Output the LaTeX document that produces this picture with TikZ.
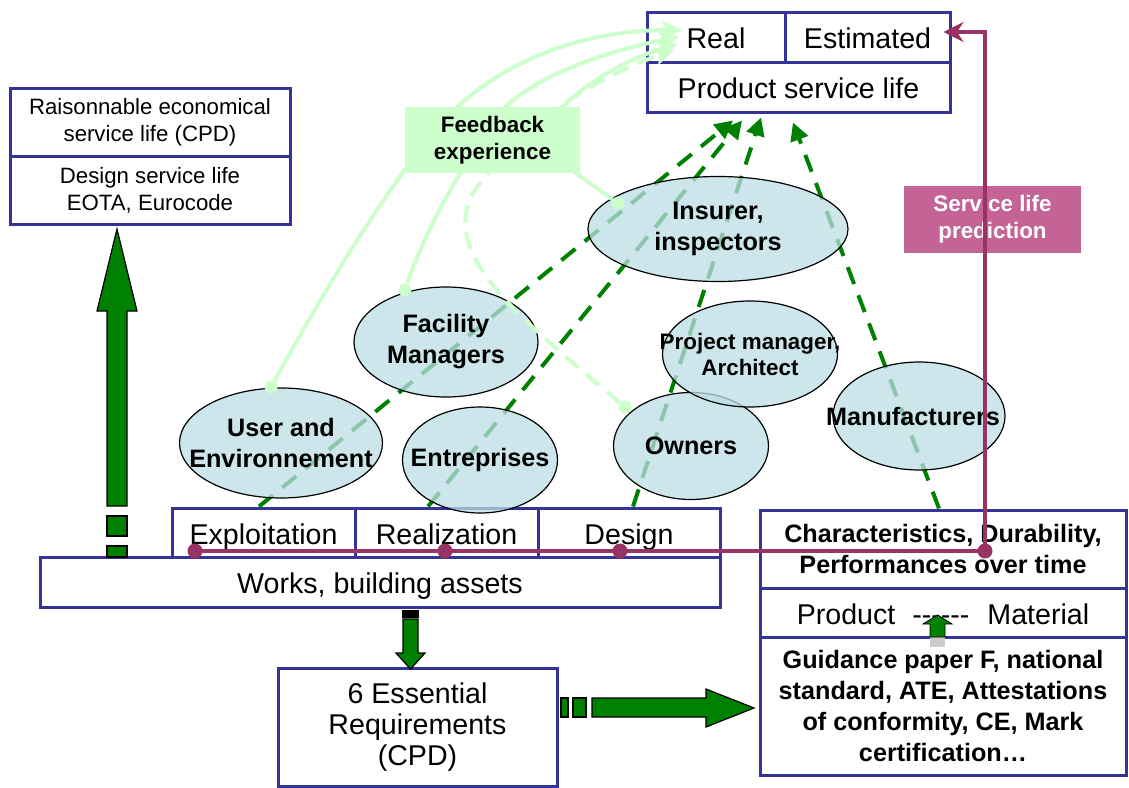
\documentclass[tikz,border=0pt]{standalone}
\usepackage{fontspec}
\setmainfont{Liberation Sans}
\usetikzlibrary{arrows.meta,shapes.geometric}
\definecolor{boxblue}{RGB}{51,51,153}
\definecolor{fbgreen}{RGB}{204,255,204}
\definecolor{dgreen}{RGB}{0,128,0}
\definecolor{plum}{RGB}{153,51,102}
\definecolor{slpink}{RGB}{196,100,150}
\definecolor{actorfill}{RGB}{187,222,228}

\begin{document}
\begin{tikzpicture}[x=0.5pt,y=-0.5pt,
    cell/.style={draw=boxblue,line width=1.5pt,fill=white,inner sep=0pt,align=center,font=\fontsize{14.3}{15.7}\selectfont},
    oneline/.style={text height=12pt,text depth=0.2pt},
    smalltxt/.style={font=\fontsize{11.1}{13.5}\selectfont},
    boldtxt/.style={font=\fontsize{12.6}{15.5}\selectfont\bfseries},
    tag/.style={inner sep=0pt,align=center,font=\fontsize{11.2}{13.5}\selectfont\bfseries},
    actor/.style={ellipse,draw=black,line width=0.6pt,fill=actorfill,fill opacity=0.75,draw opacity=1,inner sep=0pt},
    actortxt/.style={inner sep=0pt,align=center,text opacity=1,font=\fontsize{12.6}{15.5}\selectfont\bfseries},
    fbdot/.style={circle,fill=fbgreen,inner sep=0pt,minimum size=6.5pt},
    pdot/.style={circle,fill=plum,inner sep=0pt,minimum size=7.5pt},
    fbline/.style={draw=fbgreen,line width=2pt,-{Stealth[length=10pt,width=9pt,inset=2pt]}},
    dgline/.style={draw=dgreen,line width=2pt,dash pattern=on 9pt off 6pt,-{Triangle[length=9pt,width=9pt]}},
    blk/.style={fill=dgreen,draw=black,line width=0.6pt}]
    \useasboundingbox (0,0) rectangle (1129,787);

    \node[cell,oneline,minimum width=69pt,minimum height=25pt] (real) at (716,37) {Real};
    \node[cell,oneline,minimum width=82.5pt,minimum height=25pt] (est) at (867.5,37) {Estimated};
    \node[cell,oneline,minimum width=151.5pt,minimum height=25pt] (psl) at (798.5,87) {Product service life};

    \node[cell,smalltxt,minimum width=140pt,minimum height=34pt] (rsl) at (150,122) {Raisonnable economical\\service life (CPD)};
    \node[cell,smalltxt,minimum width=140pt,minimum height=34pt] (dsl) at (150,190) {Design service life\\EOTA, Eurocode};

    \node[cell,oneline,minimum width=91.5pt,minimum height=24.5pt] (expl) at (263.5,532.5) {Exploitation};
    \node[cell,oneline,minimum width=91.5pt,minimum height=24.5pt] (realiz) at (446.5,532.5) {Realization};
    \node[cell,oneline,minimum width=91pt,minimum height=24.5pt] (design) at (629,532.5) {Design};
    \node[cell,oneline,minimum width=340pt,minimum height=25pt] (works) at (380,582) {Works, building assets};

    \node[cell,boldtxt,minimum width=183pt,minimum height=39pt] (charac) at (943,549) {Characteristics, Durability,\\Performances over time};
    \node[cell,oneline,minimum width=183pt,minimum height=24.5pt] (prodmat) at (943,612.5) {Product\hspace{8.5pt}-{}-{}-{}-{}-{}-\hspace{9pt}Material};
    \node[cell,boldtxt,minimum width=183pt,minimum height=69pt] (guide) at (943,706) {Guidance paper F, national\\standard, ATE, Attestations\\of conformity, CE, Mark\\certification…};

    \node[cell,minimum width=139.5pt,minimum height=59pt] (ess) at (417.5,727) {6 Essential\\Requirements\\(CPD)};

    \draw[dgline] ([xshift=-2.25pt]expl.north) -- ([xshift=-32.75pt,yshift=-3.5pt]psl.south);
    \draw[dgline] ([xshift=-9.25pt]realiz.north) -- ([xshift=-28.25pt,yshift=-3.5pt]psl.south);
    \draw[dgline] ([xshift=2pt]design.north) -- ([xshift=-18.75pt,yshift=-2pt]psl.south);
    \draw[dgline] ([xshift=-2pt]charac.north) -- ([xshift=-2.75pt,yshift=-4.5pt]psl.south);

    \node[actor,minimum width=101.5pt,minimum height=55pt,label={[actortxt]center:{User and\\Environnement}}] (user) at (281,443) {};
    \node[actor,minimum width=92pt,minimum height=55pt,label={[actortxt]center:{Facility\\Managers}}] (fm) at (446,342) {};
    \node[actor,minimum width=77.5pt,minimum height=53pt,label={[actortxt]center:Entreprises}] (entr) at (480,460) {};
    \node[actor,minimum width=130pt,minimum height=52.5pt,label={[actortxt]center:{Insurer,\\inspectors}}] (ins) at (718,229) {};
    \node[actor,minimum width=77.5pt,minimum height=53.5pt,label={[actortxt]center:Owners}] (own) at (691,446) {};
    \node[actor,minimum width=87.5pt,minimum height=53pt,label={[actortxt,font=\fontsize{11.2}{13}\selectfont\bfseries]center:{Project manager,\\Architect}}] (pm) at (750,354) {};
    \node[actor,minimum width=86pt,minimum height=54pt,label={[actortxt,xshift=-3pt]center:Manufacturers}] (manu) at (919,416) {};

    \node[fbdot] (dUser) at (271,387) {};
    \node[fbdot] (dFM) at (405,290) {};
    \node[fbdot] (dIns) at (618,203) {};
    \node[fbdot] (dOwn) at (625,407) {};

    \draw[fbline] (dUser) .. controls (330,280) and (400,165) .. (457,107) .. controls (520,50) and (600,30) .. ([xshift=18.5pt,yshift=3.5pt]real.west);
    \draw[fbline] (dFM) .. controls (425,230) and (470,150) .. (505,107) .. controls (545,70) and (620,48) .. ([xshift=17pt,yshift=0pt]real.west);
    \draw[fbline] (dIns) -- (574,172) .. controls (555,140) and (550,120) .. (562,107) .. controls (590,80) and (630,58) .. ([xshift=16pt,yshift=-3.5pt]real.west);
    \draw[fbline,dash pattern=on 8.5pt off 5pt] (dOwn) .. controls (510,310) and (420,240) .. (490,172) .. controls (530,120) and (600,75) .. ([xshift=14.5pt,yshift=-6.5pt]real.west);

    \node[tag,fill=fbgreen,minimum width=87.5pt,minimum height=33pt] (fb) at (492.5,140) {Feedback\\experience};
    \node[tag,fill=slpink,text=white,minimum width=88.5pt,minimum height=33.5pt] (slp) at (992.5,219.5) {Service life\\prediction};

    \node[pdot] (pd1) at (195,551) {};
    \node[pdot] (pd2) at (445,551) {};
    \node[pdot] (pd3) at (620,551) {};
    \node[pdot] (pd4) at (985,551) {};
    \draw[plum,line width=2pt,-{Stealth[length=10pt,width=10pt]}] (pd1.center) -- (pd4.center) |- ([xshift=-4pt,yshift=2.5pt]est.east);

    \draw[blk] (107,506) -- (107,311) -- (97,311) -- (117,229) -- (137,311) -- (127,311) -- (127,506) -- cycle;
    \draw[blk] (107,516) rectangle (127,536);
    \draw[blk] (107,546) rectangle (127,557);

    \draw[blk] (403,611) rectangle (418,613);
    \draw[blk] (403,615) rectangle (418,617);
    \draw[blk] (403,619) -- (403,653) -- (396,653) -- (410.5,669) -- (425,653) -- (418,653) -- (418,619) -- cycle;

    \draw[blk] (561,698) rectangle (568,717);
    \draw[blk] (573,698) rectangle (586,717);
    \draw[blk] (592,698) -- (706,698) -- (706,689) -- (754,708) -- (706,727) -- (706,717) -- (592,717) -- cycle;

    \fill[gray!40] (930,637) rectangle (945,647);
    \draw[blk,line width=0.4pt] (930,637) -- (930,624) -- (923,624) -- (937.5,615) -- (952,624) -- (945,624) -- (945,637) -- cycle;
\end{tikzpicture}
\end{document}
